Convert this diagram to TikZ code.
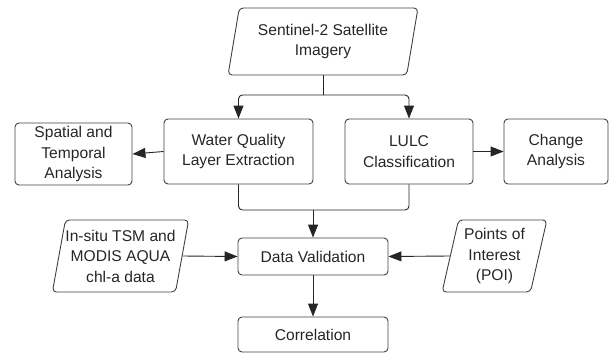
\documentclass[tikz,border=0pt]{standalone}
\usepackage{fontspec}
\setmainfont{Liberation Sans}
\usetikzlibrary{shapes.geometric,arrows.meta}
\begin{document}
\begin{tikzpicture}[x=1pt,y=-1pt,
  every node/.style={font=\fontsize{15.6}{20.5}\selectfont, text=black!85, align=center, inner sep=0pt},
  box/.style={draw=black!75, line width=0.9pt, rounded corners=4pt, rectangle},
  para/.style={draw=black!75, line width=0.9pt, rounded corners=4pt, trapezium,
    trapezium left angle=76, trapezium right angle=104, trapezium stretches=true},
  arr/.style={draw=black!85, line width=0.9pt, rounded corners=4pt, -{Triangle[length=13pt,width=10pt]}},
  ln/.style={draw=black!85, line width=0.9pt, rounded corners=4pt}]
\useasboundingbox (0,0) rectangle (609,353);
\node[para, minimum width=190pt, minimum height=67pt] (sent) at (323,41.5) {Sentinel-2 Satellite\\Imagery};
\node[box, minimum width=117pt, minimum height=62pt] (spat) at (73.5,154) {Spatial and\\Temporal\\Analysis};
\node[box, minimum width=149pt, minimum height=65pt] (wq) at (238.5,151.5) {Water Quality\\Layer Extraction};
\node[box, minimum width=128pt, minimum height=65pt] (lulc) at (409,151.5) {LULC\\Classification};
\node[box, minimum width=104pt, minimum height=65pt] (chg) at (556,151.5) {Change\\Analysis};
\node[box, minimum width=150pt, minimum height=37pt] (dv) at (313,256.5) {Data Validation};
\node[box, minimum width=150pt, minimum height=35pt] (corr) at (313,334.5) {Correlation};
\node[para, minimum width=125pt, minimum height=72pt] (insitu) at (120.5,256) {In-situ TSM and\\MODIS AQUA\\chl-a data};
\node[para, minimum width=105pt, minimum height=72pt] (poi) at (494.5,256) {Points of\\Interest\\(POI)};
\coordinate (split) at (sent.south |- 0,95);
\coordinate (merge) at (dv.north |- 0,210);
\draw[ln] (sent.south) -- (split);
\draw[arr] (split) -| (wq.north);
\draw[arr] (split) -| (lulc.north);
\draw[arr] (wq.west) -- (spat.east);
\draw[arr] (lulc.east) -- (chg.west);
\draw[ln] (wq.south) |- (merge);
\draw[ln] (lulc.south) |- (merge);
\draw[arr] (merge) -- (dv.north);
\draw[arr] (insitu.east) -- (dv.west);
\draw[arr] (poi.west) -- (dv.east);
\draw[arr] (dv.south) -- (corr.north);
\end{tikzpicture}
\end{document}
